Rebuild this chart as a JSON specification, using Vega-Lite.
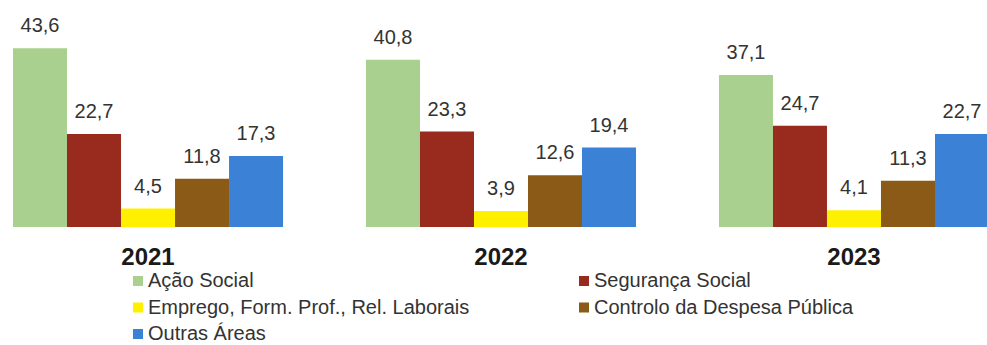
{
  "$schema": "https://vega.github.io/schema/vega-lite/v6.json",
  "width": 987,
  "height": 227,
  "autosize": {"type": "none"},
  "padding": {"left": 0, "top": 0, "right": 0, "bottom": 118},
  "background": "white",
  "config": {
    "view": {"stroke": null},
    "font": "Liberation Sans",
    "locale": {"number": {"decimal": ",", "thousands": ".", "grouping": [3], "currency": ["", " €"]}}
  },
  "data": {
    "values": [
      {"ano": "2021", "area": "Ação Social", "valor": 43.6},
      {"ano": "2021", "area": "Segurança Social", "valor": 22.7},
      {"ano": "2021", "area": "Emprego, Form. Prof., Rel. Laborais", "valor": 4.5},
      {"ano": "2021", "area": "Controlo da Despesa Pública", "valor": 11.8},
      {"ano": "2021", "area": "Outras Áreas", "valor": 17.3},
      {"ano": "2022", "area": "Ação Social", "valor": 40.8},
      {"ano": "2022", "area": "Segurança Social", "valor": 23.3},
      {"ano": "2022", "area": "Emprego, Form. Prof., Rel. Laborais", "valor": 3.9},
      {"ano": "2022", "area": "Controlo da Despesa Pública", "valor": 12.6},
      {"ano": "2022", "area": "Outras Áreas", "valor": 19.4},
      {"ano": "2023", "area": "Ação Social", "valor": 37.1},
      {"ano": "2023", "area": "Segurança Social", "valor": 24.7},
      {"ano": "2023", "area": "Emprego, Form. Prof., Rel. Laborais", "valor": 4.1},
      {"ano": "2023", "area": "Controlo da Despesa Pública", "valor": 11.3},
      {"ano": "2023", "area": "Outras Áreas", "valor": 22.7}
    ]
  },
  "encoding": {
    "x": {
      "field": "ano",
      "type": "nominal",
      "scale": {"range": [13, 989], "paddingInner": 0.235, "paddingOuter": 0},
      "axis": {
        "title": null,
        "labelAngle": 0,
        "labelFontSize": 24,
        "labelFontWeight": "bold",
        "labelColor": "#1a1a1a",
        "ticks": false,
        "domain": false,
        "labelPadding": 18
      }
    },
    "xOffset": {
      "field": "area",
      "type": "nominal",
      "sort": ["Ação Social", "Segurança Social", "Emprego, Form. Prof., Rel. Laborais", "Controlo da Despesa Pública", "Outras Áreas"],
      "scale": {"paddingInner": 0, "paddingOuter": 0}
    },
    "y": {
      "field": "valor",
      "type": "quantitative",
      "scale": {"domain": [0, 55.4], "nice": false},
      "axis": null
    }
  },
  "layer": [
    {
      "mark": {"type": "bar"},
      "encoding": {
        "color": {
          "field": "area",
          "type": "nominal",
          "sort": ["Ação Social", "Segurança Social", "Emprego, Form. Prof., Rel. Laborais", "Controlo da Despesa Pública", "Outras Áreas"],
          "scale": {
            "domain": ["Ação Social", "Segurança Social", "Emprego, Form. Prof., Rel. Laborais", "Controlo da Despesa Pública", "Outras Áreas"],
            "range": ["#a9d08e", "#992a1e", "#fff000", "#8b5a16", "#3b82d6"]
          },
          "legend": {
            "title": null,
            "orient": "none",
            "direction": "horizontal",
            "legendX": 128,
            "legendY": 271,
            "columns": 2,
            "symbolType": "square",
            "symbolSize": 100,
            "symbolStrokeWidth": 0,
            "labelFontSize": 20,
            "labelLimit": 0,
            "labelColor": "#333333",
            "columnPadding": 104,
            "rowPadding": 6.5,
            "labelOffset": 0,
            "padding": 0
          }
        }
      }
    },
    {
      "mark": {"type": "text", "dy": -22, "fontSize": 20, "color": "#333333", "baseline": "middle"},
      "encoding": {
        "text": {"field": "valor", "type": "quantitative", "format": ".1f"}
      }
    }
  ]
}
